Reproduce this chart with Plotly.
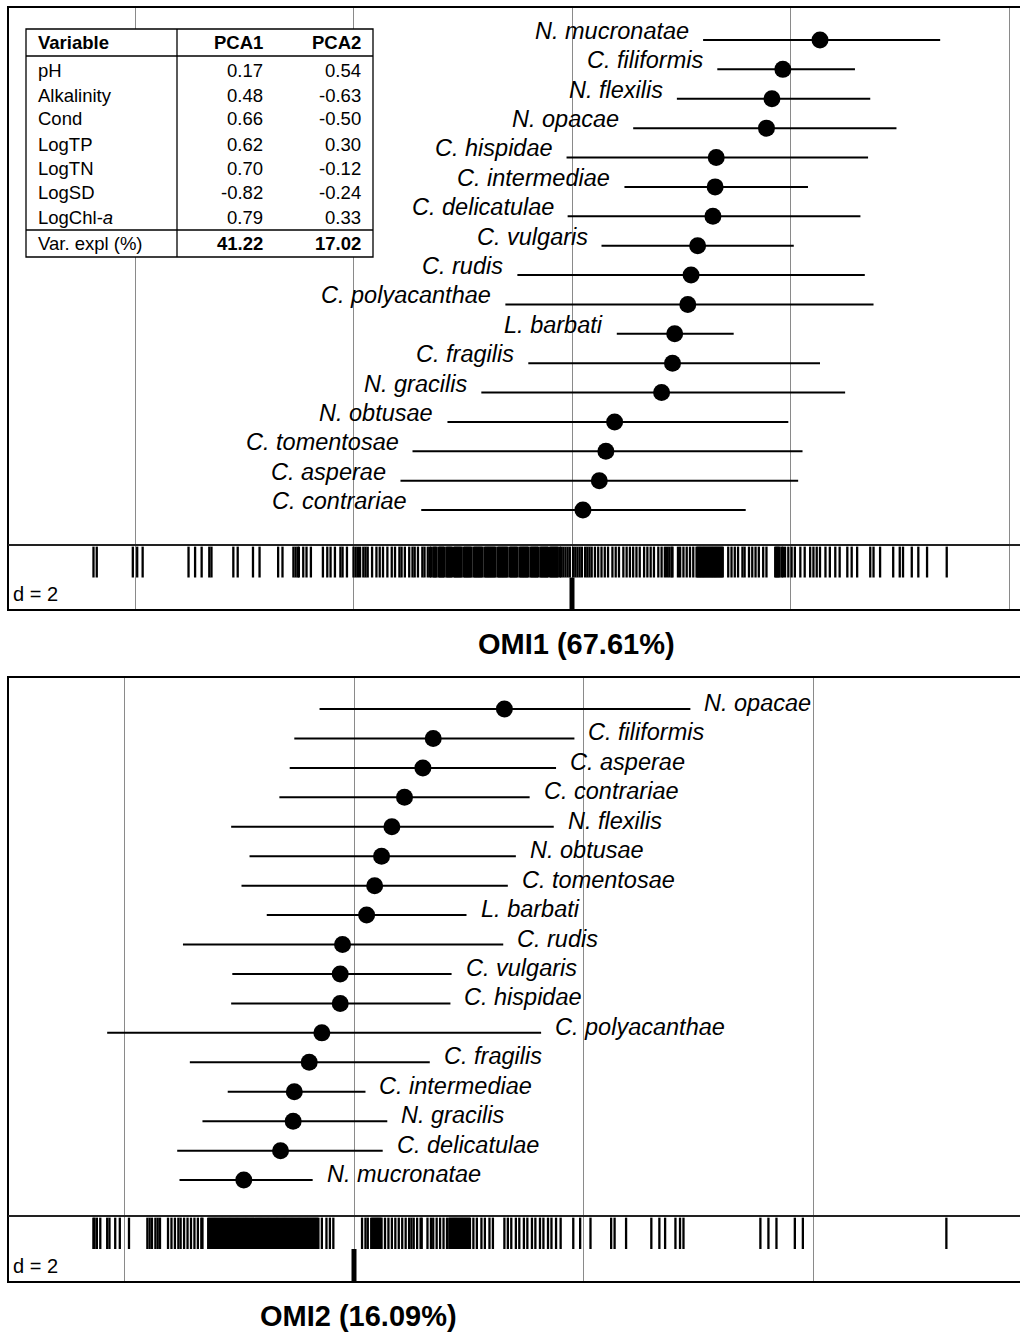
import plotly.graph_objects as go

W, H = 1020, 1333

# ---------------- DATA ----------------
# OMI1 panel (species order top -> bottom)
species1 = ["N. mucronatae", "C. filiformis", "N. flexilis", "N. opacae", "C. hispidae",
            "C. intermediae", "C. delicatulae", "C. vulgaris", "C. rudis", "C. polyacanthae",
            "L. barbati", "C. fragilis", "N. gracilis", "N. obtusae", "C. tomentosae",
            "C. asperae", "C. contrariae"]
omi1_pos = [2.27, 1.93, 1.83, 1.78, 1.32, 1.31, 1.29, 1.15, 1.09, 1.06, 0.94, 0.92, 0.82, 0.39, 0.31, 0.25, 0.10]
omi1_lo = [1.20, 1.33, 0.96, 0.56, -0.05, 0.48, -0.04, 0.27, -0.50, -0.61, 0.41, -0.40, -0.83, -1.14, -1.46, -1.57, -1.38]
omi1_hi = [3.37, 2.59, 2.73, 2.97, 2.71, 2.16, 2.64, 2.03, 2.68, 2.76, 1.48, 2.27, 2.50, 1.98, 2.11, 2.07, 1.59]

# OMI2 panel
species2 = ["N. opacae", "C. filiformis", "C. asperae", "C. contrariae", "N. flexilis",
            "N. obtusae", "C. tomentosae", "L. barbati", "C. rudis", "C. vulgaris",
            "C. hispidae", "C. polyacanthae", "C. fragilis", "C. intermediae", "N. gracilis",
            "C. delicatulae", "N. mucronatae"]
omi2_pos = [1.31, 0.69, 0.60, 0.44, 0.33, 0.24, 0.18, 0.11, -0.10, -0.12, -0.12, -0.28, -0.39, -0.52, -0.53, -0.64, -0.96]
omi2_lo = [-0.30, -0.52, -0.56, -0.65, -1.07, -0.91, -0.98, -0.76, -1.49, -1.06, -1.07, -2.15, -1.43, -1.10, -1.32, -1.54, -1.52]
omi2_hi = [2.93, 1.92, 1.76, 1.53, 1.74, 1.41, 1.34, 0.98, 1.30, 0.85, 0.84, 1.63, 0.66, 0.10, 0.29, 0.25, -0.36]

# site scores (rug) on OMI1
rug1 = [-4.38, -4.35, -4.02, -3.98, -3.93, -3.51, -3.45, -3.39, -3.32, -3.30, -3.10, -3.06,
        -2.92, -2.86, -2.69, -2.65, -2.55, -2.53, -2.51, -2.50, -2.46, -2.43, -2.39, -2.28,
        -2.24, -2.21, -2.17, -2.12, -2.10, -2.06, -2.00, -1.98, -1.96, -1.94, -1.91, -1.89,
        -1.87, -1.83, -1.79,
        -1.76, -1.73, -1.69, -1.65, -1.62, -1.58, -1.56, -1.53, -1.49, -1.46, -1.44, -1.41,
        -1.37, -1.35, -1.32, -1.30, -1.29, -1.27, -1.26, -1.25, -1.24, -1.22, -1.21, -1.20,
        -1.19, -1.18, -1.17, -1.15, -1.14, -1.13, -1.12, -1.11, -1.10, -1.08, -1.07, -1.06,
        -1.05, -1.04, -1.03, -1.02, -1.01, -0.99, -0.98, -0.97, -0.96, -0.95, -0.94, -0.93,
        -0.92, -0.90, -0.89, -0.88, -0.87, -0.86, -0.85, -0.84, -0.83, -0.82, -0.80, -0.79,
        -0.78, -0.77, -0.76, -0.75, -0.74, -0.73, -0.72, -0.71, -0.70, -0.68, -0.67, -0.66,
        -0.65, -0.64, -0.63, -0.62, -0.61, -0.60, -0.59, -0.57, -0.56, -0.55, -0.54, -0.53,
        -0.52, -0.51, -0.50, -0.48, -0.47, -0.46, -0.45, -0.44, -0.43, -0.42, -0.41, -0.40,
        -0.38, -0.37, -0.36, -0.35, -0.34, -0.33, -0.32, -0.31, -0.29, -0.28, -0.27, -0.26,
        -0.25, -0.24, -0.23, -0.22, -0.20, -0.19, -0.18, -0.17, -0.16, -0.15, -0.14, -0.13,
        -0.11, -0.10, -0.08, -0.06, -0.04,
        -0.02, 0.01, 0.03, 0.05, 0.07, 0.09, 0.12, 0.14, 0.16, 0.18, 0.21, 0.24, 0.27, 0.30,
        0.33, 0.37, 0.40, 0.43, 0.47, 0.50, 0.53, 0.56, 0.59, 0.62, 0.66, 0.69, 0.72, 0.75,
        0.79, 0.82, 0.85, 0.87, 0.89, 0.91, 0.92, 0.97, 0.99, 1.02, 1.05, 1.08, 1.11,
        1.14, 1.15, 1.16, 1.17, 1.18, 1.19, 1.20, 1.21, 1.22, 1.23, 1.24, 1.25, 1.26, 1.27,
        1.28, 1.29, 1.30, 1.31, 1.32, 1.33, 1.34, 1.35, 1.36, 1.37, 1.38,
        1.43, 1.46, 1.49, 1.52, 1.56, 1.58, 1.62, 1.65, 1.68, 1.71, 1.75, 1.78,
        1.86, 1.87, 1.88, 1.89, 1.90, 1.92, 1.93, 1.95, 1.98, 2.01, 2.04, 2.09, 2.13, 2.18,
        2.21, 2.24, 2.27, 2.32, 2.36, 2.41, 2.45, 2.52, 2.56, 2.61, 2.73, 2.76, 2.82, 2.94,
        3.00, 3.03, 3.11, 3.17, 3.25, 3.43]

# site scores (rug) on OMI2
rug2 = [-2.27, -2.26, -2.24, -2.21, -2.15, -2.13, -2.08, -2.04, -1.96, -1.80, -1.78, -1.76,
        -1.73, -1.71, -1.69, -1.62, -1.59, -1.56, -1.53, -1.51, -1.48, -1.45, -1.42, -1.39,
        -1.36, -1.33, -1.32,
        -1.27, -1.26, -1.25, -1.24, -1.23, -1.22, -1.21, -1.20, -1.19, -1.18, -1.17, -1.16,
        -1.15, -1.14, -1.13, -1.12, -1.11, -1.10, -1.09, -1.08, -1.07, -1.06, -1.05, -1.04,
        -1.03, -1.02, -1.01, -1.00, -0.99, -0.98, -0.97, -0.96, -0.95, -0.94, -0.93, -0.92,
        -0.91, -0.90, -0.89, -0.88, -0.87, -0.86, -0.85, -0.84, -0.83, -0.82, -0.81, -0.80,
        -0.79, -0.78, -0.77, -0.76, -0.75, -0.74, -0.73, -0.72, -0.71, -0.70, -0.69, -0.68,
        -0.67, -0.66, -0.65, -0.64, -0.63, -0.62, -0.61, -0.60, -0.59, -0.58, -0.57, -0.56,
        -0.55, -0.54, -0.53, -0.52, -0.51, -0.50, -0.49, -0.48, -0.47, -0.46, -0.45, -0.44,
        -0.43, -0.42, -0.41, -0.40, -0.39, -0.38, -0.37, -0.36, -0.35, -0.34, -0.33, -0.32,
        -0.31, -0.28, -0.24, -0.21, -0.18,
        0.07, 0.10, 0.12, 0.15, 0.16, 0.17, 0.18, 0.19, 0.20, 0.21, 0.22, 0.23, 0.24, 0.27,
        0.30, 0.33, 0.36, 0.39, 0.42, 0.45, 0.48, 0.50, 0.52, 0.55, 0.58, 0.59, 0.64, 0.67,
        0.69, 0.72, 0.75, 0.78, 0.81, 0.83, 0.84, 0.85, 0.86, 0.87, 0.88, 0.89, 0.90, 0.91,
        0.92, 0.93, 0.94, 0.95, 0.96, 0.97, 0.98, 0.99, 1.00, 1.01, 1.04, 1.07, 1.11,
        1.14, 1.18, 1.21, 1.31, 1.34, 1.37, 1.41, 1.44, 1.48, 1.51, 1.55, 1.58, 1.62, 1.65,
        1.69, 1.72, 1.76, 1.80, 1.91, 1.97, 2.06, 2.24, 2.27, 2.37, 2.59, 2.66, 2.71, 2.80,
        2.84, 2.87, 3.54, 3.61, 3.68, 3.84, 3.91, 5.16]

# PCA loadings table
table_vars = ["pH", "Alkalinity", "Cond", "LogTP", "LogTN", "LogSD", "LogChl-<i>a</i>"]
pca1 = [0.17, 0.48, 0.66, 0.62, 0.70, -0.82, 0.79]
pca2 = [0.54, -0.63, -0.50, 0.30, -0.12, -0.24, 0.33]
var_expl = [41.22, 17.02]

omi1_title = "OMI1 (67.61%)"
omi2_title = "OMI2 (16.09%)"
scale_label = "d = 2"
grid1 = [-4, -2, 0, 2, 4]
grid2 = [-2, 0, 2, 4]

# ---------------- HELPERS ----------------
def px(x):
    return x / W

def py(y):
    return 1 - y / H

FONT = "Liberation Sans, Arial, sans-serif"


def segments(lo, hi, ys):
    xs, yy = [], []
    for a, b, y in zip(lo, hi, ys):
        xs += [a, b, None]
        yy += [y, y, None]
    return xs, yy


def rug(vals):
    xs, ys = [], []
    for v in vals:
        xs += [v, v, None]
        ys += [0.5, 0.975, None]
    return xs, ys


fig = go.Figure()

idx1 = list(range(1, len(species1) + 1))
idx2 = list(range(1, len(species2) + 1))

RUGW = 2.3

# Top panel
sx, sy = segments(omi1_lo, omi1_hi, idx1)
fig.add_trace(go.Scatter(x=sx, y=sy, mode="lines", line=dict(color="black", width=2),
                         xaxis="x", yaxis="y", hoverinfo="skip", showlegend=False))
fig.add_trace(go.Scatter(x=omi1_pos, y=idx1, mode="markers",
                         marker=dict(color="black", size=17, symbol="circle"),
                         xaxis="x", yaxis="y", showlegend=False))
rx, ry = rug(rug1)
fig.add_trace(go.Scatter(x=rx, y=ry, mode="lines", line=dict(color="black", width=RUGW),
                         xaxis="x2", yaxis="y2", hoverinfo="skip", showlegend=False))
fig.add_trace(go.Scatter(x=[0, 0], y=[0, 0.5], mode="lines", line=dict(color="black", width=5),
                         xaxis="x2", yaxis="y2", hoverinfo="skip", showlegend=False))

# Bottom panel
sx, sy = segments(omi2_lo, omi2_hi, idx2)
fig.add_trace(go.Scatter(x=sx, y=sy, mode="lines", line=dict(color="black", width=2),
                         xaxis="x3", yaxis="y3", hoverinfo="skip", showlegend=False))
fig.add_trace(go.Scatter(x=omi2_pos, y=idx2, mode="markers",
                         marker=dict(color="black", size=17, symbol="circle"),
                         xaxis="x3", yaxis="y3", showlegend=False))
rx, ry = rug(rug2)
fig.add_trace(go.Scatter(x=rx, y=ry, mode="lines", line=dict(color="black", width=RUGW),
                         xaxis="x4", yaxis="y4", hoverinfo="skip", showlegend=False))
fig.add_trace(go.Scatter(x=[0, 0], y=[0, 0.5], mode="lines", line=dict(color="black", width=5),
                         xaxis="x4", yaxis="y4", hoverinfo="skip", showlegend=False))

GRID = "#8a8a8a"
xcommon = dict(showticklabels=False, ticks="", zeroline=False, showline=False,
               showgrid=True, gridcolor=GRID, gridwidth=1.3, fixedrange=True)
ycommon = dict(showticklabels=False, ticks="", zeroline=False, showline=False,
               showgrid=False, fixedrange=True)

xr1 = [(8 - 572) / 109.25, (1020 - 572) / 109.25]
xr2 = [(8 - 354) / 114.8, (1020 - 354) / 114.8]

fig.update_layout(
    width=W, height=H,
    margin=dict(l=0, r=0, t=0, b=0),
    plot_bgcolor="white", paper_bgcolor="white",
    xaxis=dict(domain=[px(8), 1], range=xr1, tickvals=grid1, anchor="y", **xcommon),
    yaxis=dict(domain=[py(545), py(7)], range=[18.19, -0.123], anchor="x", **ycommon),
    xaxis2=dict(domain=[px(8), 1], range=xr1, tickvals=grid1, anchor="y2", **xcommon),
    yaxis2=dict(domain=[py(610), py(545)], range=[0, 1], anchor="x2", **ycommon),
    xaxis3=dict(domain=[px(8), 1], range=xr2, tickvals=grid2, anchor="y3", **xcommon),
    yaxis3=dict(domain=[py(1216), py(677)], range=[18.22, -0.087], anchor="x3", **ycommon),
    xaxis4=dict(domain=[px(8), 1], range=xr2, tickvals=grid2, anchor="y4", **xcommon),
    yaxis4=dict(domain=[py(1282), py(1216)], range=[0, 1], anchor="x4", **ycommon),
)

shapes = []
# frames
for top, sep, bot in [(7, 545, 610), (677, 1216, 1282)]:
    shapes.append(dict(type="rect", xref="paper", yref="paper", x0=px(8), x1=1.01,
                       y0=py(bot), y1=py(top), line=dict(color="black", width=2), layer="above"))
    shapes.append(dict(type="line", xref="paper", yref="paper", x0=px(8), x1=1.01,
                       y0=py(sep), y1=py(sep), line=dict(color="#222", width=2), layer="above"))

# table
shapes.append(dict(type="rect", xref="paper", yref="paper", x0=px(26), x1=px(373),
                   y0=py(257), y1=py(29), fillcolor="white",
                   line=dict(color="black", width=1.3), layer="above"))
shapes.append(dict(type="line", xref="paper", yref="paper", x0=px(177), x1=px(177),
                   y0=py(257), y1=py(29), line=dict(color="black", width=1.3), layer="above"))
for yl in [56, 230]:
    shapes.append(dict(type="line", xref="paper", yref="paper", x0=px(26), x1=px(373),
                       y0=py(yl), y1=py(yl), line=dict(color="black", width=1.3), layer="above"))
fig.update_layout(shapes=shapes)

ann = []
# species labels top (right aligned, left of line)
for name, lo, i in zip(species1, omi1_lo, idx1):
    ann.append(dict(x=lo, y=i, xref="x", yref="y", text=f"<i>{name}</i>", showarrow=False,
                    xanchor="right", yanchor="middle", xshift=-12, yshift=9,
                    font=dict(family=FONT, size=23.5, color="black")))
# species labels bottom (left aligned, right of line)
for name, hi, i in zip(species2, omi2_hi, idx2):
    ann.append(dict(x=hi, y=i, xref="x3", yref="y3", text=f"<i>{name}</i>", showarrow=False,
                    xanchor="left", yanchor="middle", xshift=12, yshift=6,
                    font=dict(family=FONT, size=23.5, color="black")))

# table text
tfont = dict(family=FONT, size=18.5, color="black")
ann.append(dict(x=px(36), y=py(43), xref="paper", yref="paper", text="<b>Variable</b>",
                showarrow=False, xanchor="left", yanchor="middle", font=tfont))
ann.append(dict(x=px(265), y=py(43), xref="paper", yref="paper", text="<b>PCA1</b>",
                showarrow=False, xanchor="right", yanchor="middle", font=tfont))
ann.append(dict(x=px(363), y=py(43), xref="paper", yref="paper", text="<b>PCA2</b>",
                showarrow=False, xanchor="right", yanchor="middle", font=tfont))
row_y = [70, 95, 119, 144, 168, 193, 217]
for v, a, b, yy in zip(table_vars, pca1, pca2, row_y):
    ann.append(dict(x=px(36), y=py(yy), xref="paper", yref="paper", text=v,
                    showarrow=False, xanchor="left", yanchor="middle", font=tfont))
    ann.append(dict(x=px(265), y=py(yy), xref="paper", yref="paper", text=f"{a:.2f}",
                    showarrow=False, xanchor="right", yanchor="middle", font=tfont))
    ann.append(dict(x=px(363), y=py(yy), xref="paper", yref="paper", text=f"{b:.2f}",
                    showarrow=False, xanchor="right", yanchor="middle", font=tfont))
ann.append(dict(x=px(36), y=py(243), xref="paper", yref="paper", text="Var. expl (%)",
                showarrow=False, xanchor="left", yanchor="middle", font=tfont))
ann.append(dict(x=px(265), y=py(243), xref="paper", yref="paper", text=f"<b>{var_expl[0]:.2f}</b>",
                showarrow=False, xanchor="right", yanchor="middle", font=tfont))
ann.append(dict(x=px(363), y=py(243), xref="paper", yref="paper", text=f"<b>{var_expl[1]:.2f}</b>",
                showarrow=False, xanchor="right", yanchor="middle", font=tfont))

# d = 2 labels
for yy in [594, 1266]:
    ann.append(dict(x=px(11), y=py(yy), xref="paper", yref="paper", text=scale_label,
                    showarrow=False, xanchor="left", yanchor="middle",
                    font=dict(family=FONT, size=20, color="black")))

# titles
ann.append(dict(x=px(576), y=py(644), xref="paper", yref="paper", text=f"<b>{omi1_title}</b>",
                showarrow=False, xanchor="center", yanchor="middle",
                font=dict(family=FONT, size=29, color="black")))
ann.append(dict(x=px(358), y=py(1316), xref="paper", yref="paper", text=f"<b>{omi2_title}</b>",
                showarrow=False, xanchor="center", yanchor="middle",
                font=dict(family=FONT, size=29, color="black")))

fig.update_layout(annotations=ann)

fig.write_html("out.html",
               config={"displayModeBar": False},
               post_script="document.body.style.margin='0px';document.body.style.overflow='hidden';")
